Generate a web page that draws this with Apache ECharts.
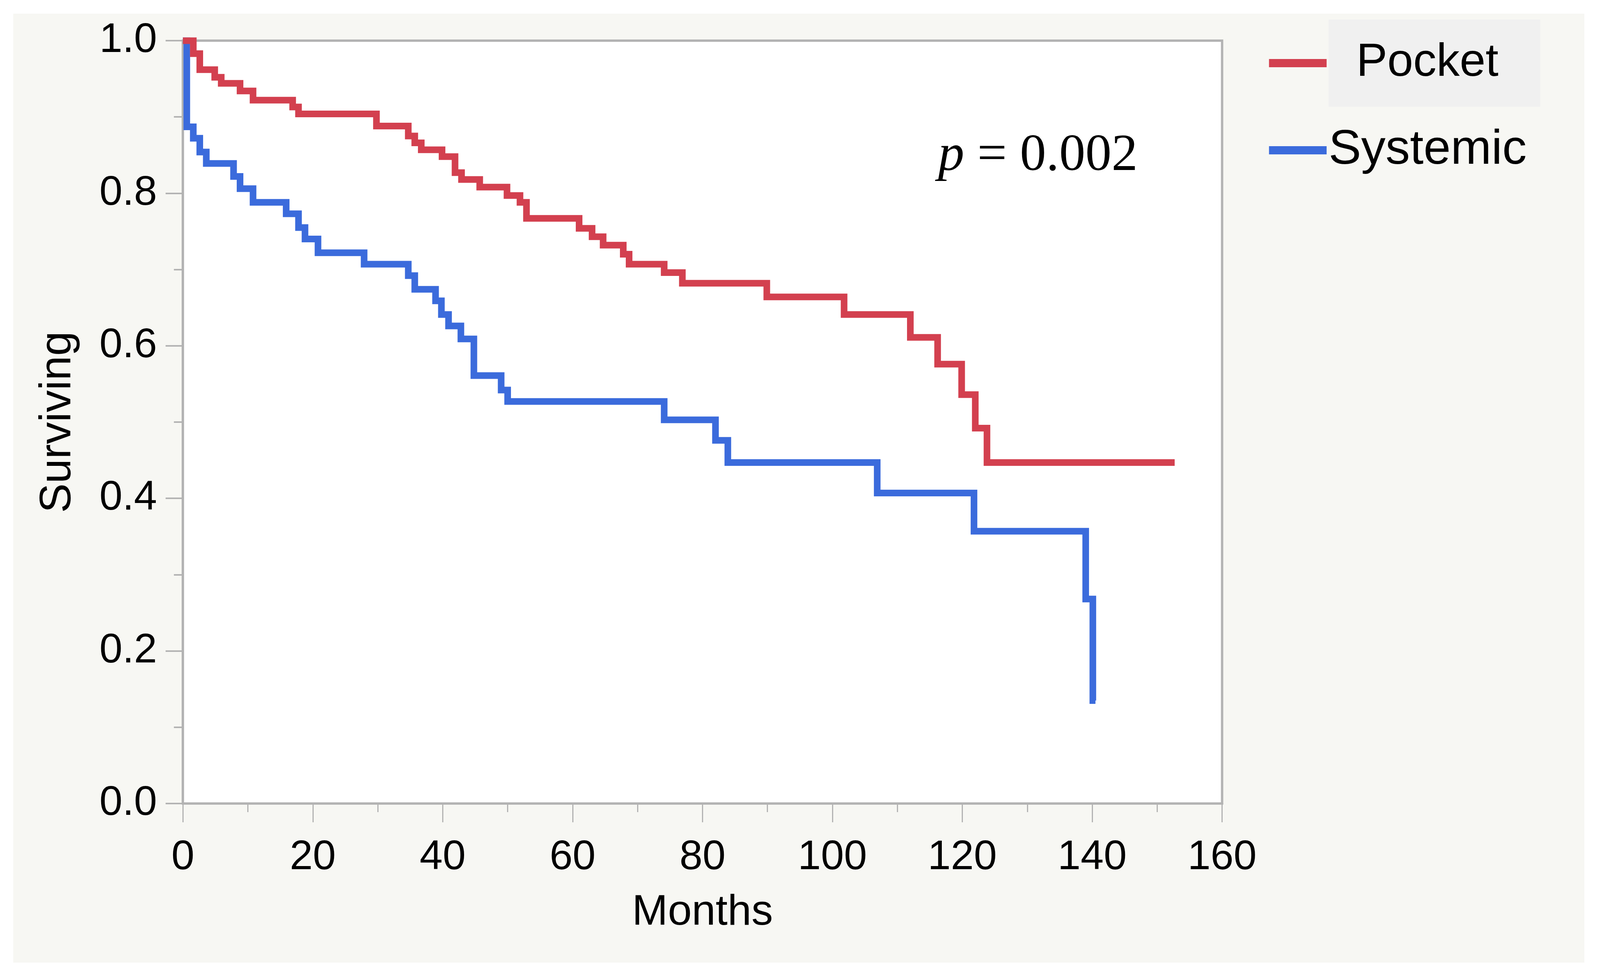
<!DOCTYPE html>
<html><head><meta charset="utf-8">
<script src="https://cdn.jsdelivr.net/npm/echarts@6/dist/echarts.min.js"></script>
<style>
html,body{margin:0;padding:0;background:#fff;width:100%;height:100%;overflow:hidden}
#c{position:absolute;background:#f7f7f3}
</style>
</head><body><div id="c"></div>
<script>
// Kaplan-Meier step data (month of event, survival after event)
const pocketMonths = [0, 1.6, 2.6, 4.9, 5.9, 8.8, 10.8, 16.9, 17.8, 29.8, 34.7, 35.7, 36.7, 39.9, 41.9, 42.9, 45.7, 49.9, 51.9, 52.9, 61.0, 63.0, 64.7, 67.8, 68.7, 74.1, 76.9, 89.9, 101.8, 112.0, 116.2, 119.9, 122.0, 123.8, 152.7];
const pocketSurv   = [1.000, 0.983, 0.962, 0.952, 0.944, 0.934, 0.922, 0.913, 0.904, 0.888, 0.875, 0.866, 0.857, 0.848, 0.827, 0.818, 0.808, 0.797, 0.788, 0.767, 0.754, 0.743, 0.732, 0.720, 0.707, 0.696, 0.682, 0.664, 0.641, 0.611, 0.576, 0.536, 0.492, 0.447, 0.447];
const systemicMonths = [0, 0.6, 1.6, 2.6, 3.6, 7.8, 8.8, 10.8, 15.9, 17.8, 18.8, 20.8, 27.9, 34.7, 35.7, 38.9, 39.8, 40.9, 42.8, 44.8, 49.0, 50.0, 74.1, 82.0, 83.9, 106.9, 121.8, 139.0, 140.1, 140.5];
const systemicSurv   = [1.000, 0.887, 0.872, 0.854, 0.839, 0.822, 0.806, 0.788, 0.773, 0.755, 0.740, 0.722, 0.707, 0.692, 0.674, 0.659, 0.641, 0.626, 0.609, 0.561, 0.542, 0.527, 0.503, 0.476, 0.447, 0.407, 0.357, 0.268, 0.135, 0.135];
const seriesNames = ['Pocket', 'Systemic'];
const xTickValues = [0, 20, 40, 60, 80, 100, 120, 140, 160];
const yTickLabels = ['0.0', '0.2', '0.4', '0.6', '0.8', '1.0'];
const pText = '\u00a0=\u00a00.002';

// layout designed on a 4443 x 2505 canvas, scaled to the real window
const W = window.innerWidth || 4443, H = window.innerHeight || 2505;
const sx = W / 4443, sy = H / 2505, f = Math.sqrt(sx * sy);
const X = v => v * sx, Y = v => v * sy, F = v => Math.round(v * f);

const box = document.getElementById('c');
box.style.left = X(37) + 'px'; box.style.top = Y(35) + 'px';
box.style.width = X(4363) + 'px'; box.style.height = Y(2428) + 'px';

const zip = (a, b) => a.map((v, i) => [v, b[i]]);
const sans = '"Liberation Sans", Arial, sans-serif';
const serif = '"Liberation Serif", "Times New Roman", serif';
const gray = '#b3b3b3';

const pocketFs = F(124), sysFs = F(130);
const padV = Y(52);
const legendGap = Y(223) - (pocketFs + 2 * padV) / 2 - sysFs / 2;

const chart = echarts.init(box, null, {renderer: 'canvas'});
chart.setOption({
  animation: false,
  backgroundColor: 'transparent',
  grid: {left: X(471), top: Y(69), right: X(1006), bottom: Y(407), show: true, backgroundColor: '#ffffff', borderColor: gray, borderWidth: 6},
  xAxis: {
    type: 'value', min: xTickValues[0], max: xTickValues[xTickValues.length - 1], interval: 20,
    name: 'Months', nameLocation: 'middle', nameGap: Y(225),
    nameTextStyle: {fontFamily: sans, fontSize: F(115), color: '#000'},
    axisLine: {show: true, lineStyle: {color: gray, width: 6}},
    axisTick: {show: true, length: Y(48), lineStyle: {color: gray, width: 3}},
    minorTick: {show: true, splitNumber: 2, length: Y(22), lineStyle: {color: gray, width: 3}},
    axisLabel: {fontFamily: sans, fontSize: F(110), color: '#000', margin: Y(86)},
    splitLine: {show: false}
  },
  yAxis: {
    type: 'value', min: 0, max: 1, interval: 0.2,
    name: 'Surviving', nameLocation: 'middle', nameGap: X(285),
    nameTextStyle: {fontFamily: sans, fontSize: F(118), color: '#000'},
    axisLine: {show: true, lineStyle: {color: gray, width: 6}},
    axisTick: {show: true, length: X(48), lineStyle: {color: gray, width: 4}},
    minorTick: {show: true, splitNumber: 2, length: X(25), lineStyle: {color: gray, width: 4}},
    axisLabel: {fontFamily: sans, fontSize: F(110), color: '#000', margin: X(72),
      formatter: v => yTickLabels[Math.round(v / 0.2)]},
    splitLine: {show: false}
  },
  legend: {
    orient: 'vertical', left: X(3487), top: Y(15), padding: 0, itemGap: legendGap,
    icon: 'rect', itemWidth: X(160), itemHeight: 21, selectedMode: false,
    textStyle: {fontFamily: sans, fontSize: sysFs, color: '#000'},
    data: [
      {name: seriesNames[0], textStyle: {fontFamily: sans, fontSize: pocketFs, color: '#000', backgroundColor: '#f0f0f0', padding: [padV, X(116), padV, X(77)]}},
      {name: seriesNames[1]}
    ]
  },
  graphic: [{
    type: 'text', x: X(2568), y: Y(365),
    style: {
      text: '{i|p}{n|' + pText + '}',
      verticalAlign: 'middle', align: 'left',
      rich: {
        i: {fontFamily: serif, fontStyle: 'italic', fontSize: F(140), fill: '#000'},
        n: {fontFamily: serif, fontSize: F(140), fill: '#000'}
      }
    }
  }],
  series: [
    {name: seriesNames[1], type: 'line', step: 'end', symbol: 'none', data: zip(systemicMonths, systemicSurv),
     lineStyle: {color: '#3b6bdc', width: 17, cap: 'butt', join: 'miter'}, itemStyle: {color: '#3b6bdc'}},
    {name: seriesNames[0], type: 'line', step: 'end', symbol: 'none', data: zip(pocketMonths, pocketSurv),
     lineStyle: {color: '#d3404f', width: 17, cap: 'butt', join: 'miter'}, itemStyle: {color: '#d3404f'}}
  ]
});
</script>
</body></html>
